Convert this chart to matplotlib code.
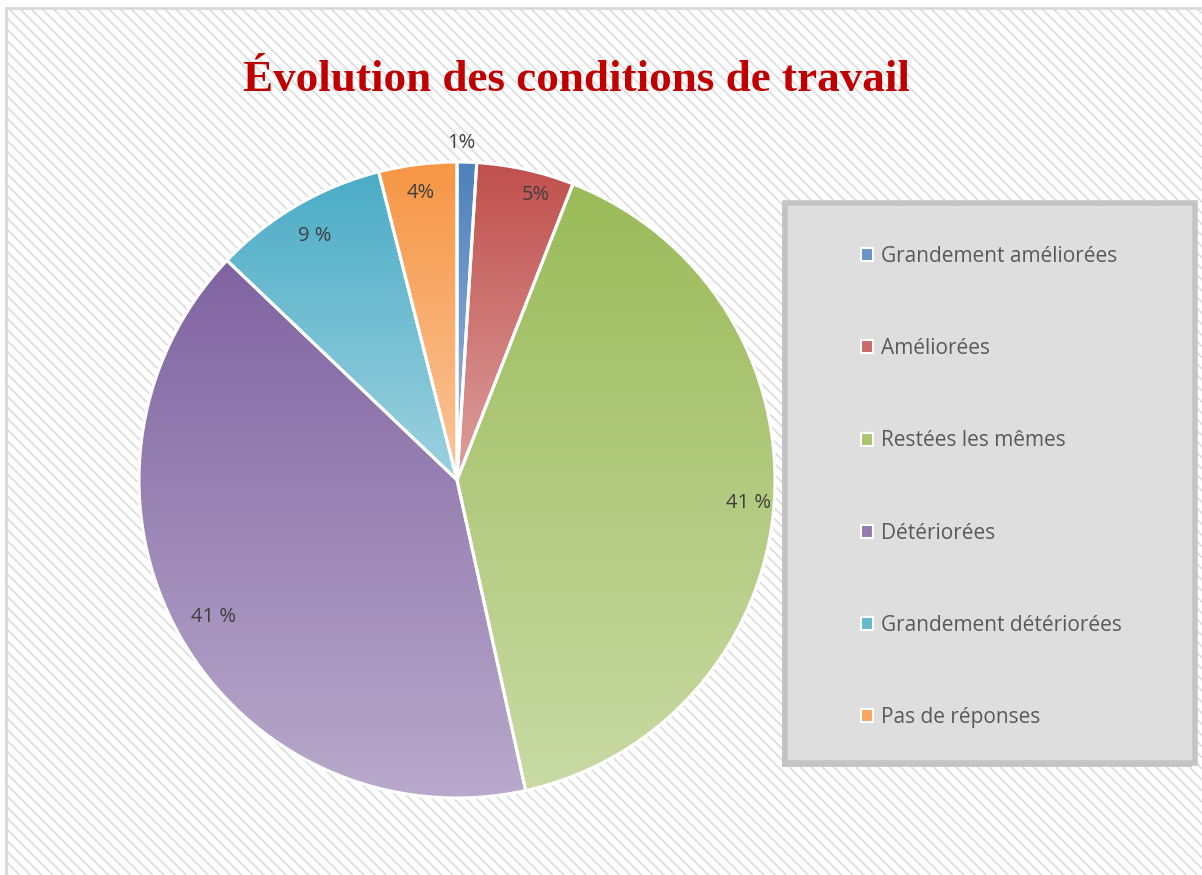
import numpy as np
import matplotlib
matplotlib.use("Agg")
import matplotlib.pyplot as plt
from matplotlib.patches import Rectangle, Patch
from matplotlib.colors import to_rgb

# données du graphique
categories = ["Grandement améliorées", "Améliorées", "Restées les mêmes",
              "Détériorées", "Grandement détériorées", "Pas de réponses"]
valeurs = [1, 5, 41, 41, 9, 4]
etiquettes = ["1%", "5%", "41 %", "41 %", "9 %", "4%"]

couleurs = ["#4F81BD", "#C0504D", "#9BBB59", "#8064A2", "#4BACC6", "#F79646"]
# placement des étiquettes (distance au centre, décalage angulaire)
distances = [1.06, 0.93, 0.92, 0.88, 0.89, 0.91]
decalages = [1, -3, 0, 0, 0, 0]

W, H = 1202, 875
fig = plt.figure(figsize=(W / 100, H / 100), dpi=100)
fig.patch.set_facecolor("white")

plt.rcParams["hatch.linewidth"] = 1.3

# fond hachuré
fond = Rectangle((6 / W, -0.05), 1.1, 1 - 8 / H + 0.05, transform=fig.transFigure,
                 facecolor="white", edgecolor="#DEDEDE", linewidth=0,
                 hatch="\\" * 3, zorder=-2)
fig.patches.append(fond)
bord = Rectangle((6 / W, -0.05), 1.1, 1 - 8 / H + 0.05, transform=fig.transFigure,
                 facecolor="none", edgecolor="#D9D9D9", linewidth=2, zorder=-1)
fig.patches.append(bord)


def eclaircir(c, f):
    r, g, b = to_rgb(c)
    return (r + (1 - r) * f, g + (1 - g) * f, b + (1 - b) * f)


def degrade(c, n=64):
    haut = np.array(to_rgb(c))
    bas = np.array(eclaircir(c, 0.45))
    t = np.linspace(0, 1, n)[:, None]
    return (haut * (1 - t) + bas * t)[:, None, :]


# camembert
cx, cy, R = 457, 480, 318
ax = fig.add_axes([(cx - R) / W, (H - cy - R) / H, 2 * R / W, 2 * R / H])
ax.set_zorder(2)
ax.patch.set_visible(False)
wedges, _ = ax.pie(valeurs, colors=couleurs, startangle=90, counterclock=False,
                   wedgeprops=dict(edgecolor="white", linewidth=2.2))

for w, c in zip(wedges, couleurs):
    v = w.get_path().vertices
    x0, x1 = v[:, 0].min(), v[:, 0].max()
    y0, y1 = v[:, 1].min(), v[:, 1].max()
    im = ax.imshow(degrade(c), extent=(x0, x1, y0, y1), origin="upper",
                   aspect="auto", zorder=w.get_zorder() - 0.1)
    im.set_clip_path(w)
    w.set_facecolor("none")

for w, txt, d, dec in zip(wedges, etiquettes, distances, decalages):
    a = np.deg2rad((w.theta1 + w.theta2) / 2 + dec)
    ax.text(d * np.cos(a), d * np.sin(a), txt, ha="center", va="center",
            fontsize=14.5, color="#404040", family="Open Sans", clip_on=False)
ax.set_xlim(-1, 1)
ax.set_ylim(-1, 1)
ax.set_aspect("equal")
ax.axis("off")

# titre
fig.text(576 / W, 1 - 91 / H, "Évolution des conditions de travail", ha="center",
         va="baseline", fontsize=32.5, fontweight="bold", color="#C00000",
         family="Liberation Serif")

# cadre de la légende
lx0, lx1, ly0, ly1 = 785, 1195, 203, 763
ombre = Rectangle(((lx0 - 3) / W, (H - ly1 - 4) / H), (lx1 - lx0) / W, (ly1 - ly0) / H,
                  transform=fig.transFigure, facecolor="#C8C8C8", edgecolor="none",
                  zorder=2)
fig.patches.append(ombre)
cadre = Rectangle((lx0 / W, (H - ly1) / H), (lx1 - lx0) / W, (ly1 - ly0) / H,
                  transform=fig.transFigure, facecolor="#DEDEDE", edgecolor="#C4C4C4",
                  linewidth=4, zorder=3)
fig.patches.append(cadre)

poignees = [Patch(facecolor=eclaircir(c, 0.15), edgecolor="white", linewidth=1.5)
            for c in couleurs]
leg = fig.legend(poignees, categories, loc="upper left",
                 bbox_to_anchor=(861 / W, 1 - 246 / H), frameon=False,
                 prop=dict(family="Open Sans", size=15), labelcolor="#595959",
                 handlelength=0.58, handleheight=0.58, handletextpad=0.38,
                 labelspacing=3.42, borderpad=0, borderaxespad=0)
leg.set_zorder(5)

fig.savefig("out.png", dpi=100)
